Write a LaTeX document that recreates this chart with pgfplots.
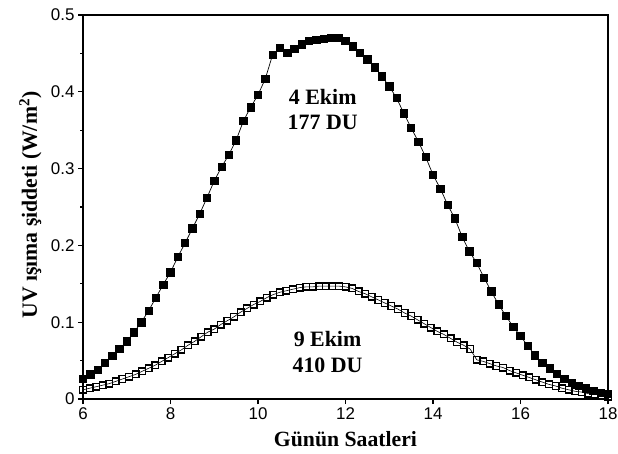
\documentclass[border=0pt]{standalone}
\usepackage{fontspec}
\setmainfont{Liberation Serif}
\setsansfont{Liberation Sans}
\usepackage{pgfplots}
\usepackage{pgfplotstable}
\pgfplotsset{compat=1.18}

\pgfplotstableread{
x y
6.000 0.026
6.167 0.032
6.333 0.038
6.500 0.047
6.667 0.056
6.833 0.065
7.000 0.075
7.167 0.087
7.333 0.100
7.500 0.115
7.667 0.132
7.833 0.149
8.000 0.165
8.167 0.185
8.333 0.203
8.500 0.222
8.667 0.241
8.833 0.262
9.000 0.284
9.167 0.302
9.333 0.318
9.500 0.337
9.667 0.362
9.833 0.380
10.000 0.396
10.167 0.417
10.333 0.448
10.500 0.457
10.667 0.451
10.833 0.456
11.000 0.462
11.167 0.466
11.333 0.468
11.500 0.469
11.667 0.470
11.833 0.470
12.000 0.466
12.167 0.459
12.333 0.451
12.500 0.442
12.667 0.432
12.833 0.420
13.000 0.407
13.167 0.392
13.333 0.372
13.500 0.353
13.667 0.335
13.833 0.315
14.000 0.292
14.167 0.274
14.333 0.253
14.500 0.235
14.667 0.211
14.833 0.192
15.000 0.177
15.167 0.158
15.333 0.140
15.500 0.123
15.667 0.108
15.833 0.094
16.000 0.082
16.167 0.069
16.333 0.057
16.500 0.047
16.667 0.040
16.833 0.033
17.000 0.026
17.167 0.021
17.333 0.017
17.500 0.014
17.667 0.011
17.833 0.008
18.000 0.007
}\ekimdort

\pgfplotstableread{
x y
6.00 0.012
6.15 0.014
6.30 0.016
6.45 0.018
6.60 0.020
6.75 0.023
6.90 0.026
7.05 0.029
7.20 0.032
7.35 0.036
7.50 0.040
7.65 0.044
7.80 0.049
7.95 0.054
8.10 0.059
8.25 0.064
8.40 0.070
8.55 0.075
8.70 0.081
8.85 0.087
9.00 0.091
9.15 0.097
9.30 0.102
9.45 0.107
9.60 0.113
9.75 0.118
9.90 0.123
10.05 0.127
10.20 0.132
10.35 0.136
10.50 0.139
10.65 0.141
10.80 0.143
10.95 0.145
11.10 0.146
11.25 0.146
11.40 0.147
11.55 0.147
11.70 0.147
11.85 0.147
12.00 0.146
12.15 0.144
12.30 0.140
12.45 0.137
12.60 0.133
12.75 0.129
12.90 0.125
13.05 0.121
13.20 0.117
13.35 0.112
13.50 0.108
13.65 0.103
13.80 0.098
13.95 0.093
14.10 0.088
14.25 0.084
14.40 0.079
14.55 0.074
14.70 0.070
14.85 0.065
15.00 0.051
15.15 0.049
15.30 0.046
15.45 0.043
15.60 0.041
15.75 0.037
15.90 0.034
16.05 0.031
16.20 0.028
16.35 0.025
16.50 0.022
16.65 0.019
16.80 0.017
16.95 0.014
17.10 0.012
17.25 0.010
17.40 0.009
17.55 0.007
17.70 0.006
17.85 0.005
18.00 0.003
}\ekimdokuz

\begin{document}
\begin{tikzpicture}
\useasboundingbox (0,0) rectangle (618bp,454bp);
\begin{axis}[
  at={(83bp,55bp)}, anchor=south west,
  scale only axis, width=525bp, height=384bp,
  xmin=6, xmax=18, ymin=0, ymax=0.5,
  xtick={6,8,...,18},
  ytick={0,0.1,0.2,0.3,0.4,0.5},
  yticklabels={0,0.1,0.2,0.3,0.4,0.5},
  minor ytick={0.05,0.15,0.25,0.35,0.45},
  tick pos=left, tick align=outside,
  major tick length=5bp, minor tick length=3bp,
  axis line style={line width=1.3bp},
  every tick/.style={black, line width=1.1bp},
  /pgf/number format/assume math mode=true,
  tick label style={font=\sffamily\fontsize{17}{17}\selectfont},
  xlabel={Günün Saatleri},
  ylabel={UV ışıma şiddeti (W/m\textsuperscript{2})},
  label style={font=\bfseries\fontsize{21.8}{21.8}\selectfont},
  xlabel style={at={(axis description cs:0.5,-0.125)}, anchor=base},
  ylabel style={at={(axis description cs:-0.100,0.505)}, anchor=center},
  clip=false,
]
\addplot[black, line width=0.7bp, mark=square*, mark size=3.7bp,
  mark options={solid}] table[x=x,y=y] {\ekimdort};
\addplot[black, line width=0.6bp, mark=square, mark size=3.3bp,
  mark options={solid, line width=1.4bp}] table[x=x,y=y] {\ekimdokuz};
\node[align=center, font=\bfseries\fontsize{22}{26}\selectfont, text=black]
  at (axis cs:11.48,0.377) {4 Ekim\\177 DU};
\node[align=center, font=\bfseries\fontsize{22}{26}\selectfont, text=black]
  at (axis cs:11.59,0.061) {9 Ekim\\410 DU};
\end{axis}
\end{tikzpicture}
\end{document}
